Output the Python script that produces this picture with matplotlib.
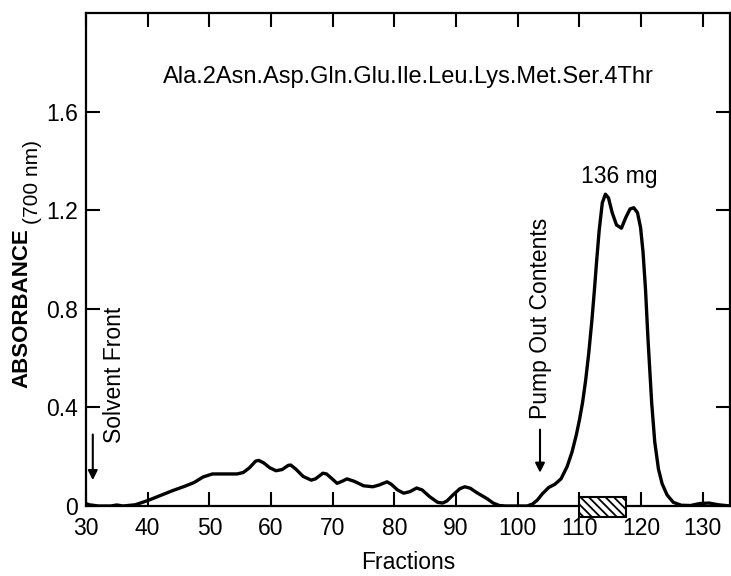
import matplotlib
matplotlib.use("agg")
import matplotlib.pyplot as plt
from matplotlib.patches import Rectangle

# chromatogram
fractions = [30.0, 30.5, 32.0, 34.0, 35.0, 36.0, 38.0, 40.0, 42.0, 44.0, 46.0, 47.5,
             49.0, 50.5, 52.0, 54.5, 55.5, 56.5, 57.5, 58.0, 58.8, 59.8, 60.8, 61.8,
             62.8, 63.2, 64.0, 65.2, 66.5, 67.2, 68.4, 69.0, 70.0, 70.7, 71.5, 72.3,
             73.5, 75.0, 76.5, 77.5, 78.8, 79.5, 80.5, 81.5, 82.5, 83.6, 84.5, 85.7,
             87.0, 87.8, 88.5, 89.5, 90.6, 91.4, 92.3, 93.3, 95.0, 96.0, 97.0, 98.0,
             101.5, 102.4, 103.2, 104.0, 105.0, 106.0, 107.0, 108.0, 108.8, 109.5,
             110.0, 110.5, 111.0, 111.5, 112.0, 112.4, 112.8, 113.2, 113.7, 114.2,
             114.7, 115.3, 116.0, 116.8, 117.5, 118.2, 118.8, 119.4, 119.9, 120.3,
             120.7, 121.1, 121.7, 122.2, 122.8, 123.4, 124.2, 125.2, 126.5, 128.0,
             129.5, 131.0, 132.5, 134.4]
absorbance = [0.01, 0.005, 0.0, 0.0, 0.004, 0.0, 0.005, 0.022, 0.042, 0.062, 0.08, 0.095,
              0.118, 0.13, 0.13, 0.13, 0.136, 0.155, 0.182, 0.185, 0.175, 0.155, 0.143, 0.148,
              0.165, 0.166, 0.15, 0.12, 0.105, 0.11, 0.133, 0.13, 0.108, 0.092, 0.10, 0.11,
              0.10, 0.082, 0.078, 0.085, 0.098, 0.088, 0.065, 0.052, 0.058, 0.073, 0.065, 0.038,
              0.015, 0.012, 0.02, 0.045, 0.07, 0.078, 0.072, 0.055, 0.03, 0.012, 0.002, 0.0,
              0.0, 0.008, 0.025, 0.05, 0.075, 0.088, 0.11, 0.16, 0.22, 0.29,
              0.35, 0.42, 0.51, 0.62, 0.75, 0.87, 1.0, 1.12, 1.23, 1.265,
              1.25, 1.19, 1.14, 1.127, 1.17, 1.205, 1.21, 1.19, 1.13, 1.03,
              0.88, 0.68, 0.42, 0.26, 0.15, 0.09, 0.045, 0.015, 0.003, 0.002,
              0.01, 0.012, 0.005, 0.0]

pool_range = [110.0, 117.5]
solvent_front = 31.1
pump_out = 103.6

x_ticks = [30, 40, 50, 60, 70, 80, 90, 100, 110, 120, 130]
y_ticks = [0, 0.4, 0.8, 1.2, 1.6]
y_ticklabels = ["0", "0.4", "0.8", "1.2", "1.6"]

plt.rcParams["font.family"] = ["Liberation Sans", "DejaVu Sans"]
plt.rcParams["hatch.linewidth"] = 1.3

fig = plt.figure(figsize=(7.31, 5.76), dpi=100)
ax = fig.add_axes([86 / 731, 1 - 506 / 576, 644 / 731, 493 / 576])

ax.plot(fractions, absorbance, color="black", lw=2.4, solid_joinstyle="round")

ax.add_patch(Rectangle((pool_range[0], -0.045), pool_range[1] - pool_range[0], 0.082,
                       facecolor="white", edgecolor="black", hatch="\\\\\\\\",
                       lw=1.5, clip_on=False, zorder=5))

ax.set_xlim(30, 134.4)
ax.set_ylim(0, 2.0)
ax.set_xticks(x_ticks)
ax.set_yticks(y_ticks)
ax.set_yticklabels(y_ticklabels)
ax.tick_params(direction="in", length=10, width=1.5, labelsize=16.5,
               top=True, right=True)
ax.tick_params(axis="x", pad=8)
ax.tick_params(axis="y", pad=6)
for sp in ax.spines.values():
    sp.set_linewidth(1.6)

ax.set_xlabel("Fractions", fontsize=16.5, labelpad=8)

fig.text(22 / 731, 1 - 308 / 576, "ABSORBANCE", rotation=90, fontsize=16,
         fontweight="bold", ha="center", va="center")
fig.text(33 / 731, 1 - 182 / 576, "(700 nm)", rotation=90, fontsize=15,
         ha="center", va="center")

ax.text(82.3, 1.74, "Ala.2Asn.Asp.Gln.Glu.Ile.Leu.Lys.Met.Ser.4Thr",
        fontsize=17, ha="center", va="center")
ax.text(116.5, 1.335, "136 mg", fontsize=16.5, ha="center", va="center")

ax.text(34.7, 0.53, "Solvent Front", rotation=90, fontsize=16.5,
        ha="center", va="center")
ax.annotate("", xy=(solvent_front, 0.105), xytext=(solvent_front, 0.29),
            arrowprops=dict(arrowstyle="-|>", color="black", lw=1.5,
                            mutation_scale=14, shrinkA=0, shrinkB=0))

ax.text(pump_out, 0.76, "Pump Out Contents", rotation=90, fontsize=16.5,
        ha="center", va="center")
ax.annotate("", xy=(pump_out, 0.135), xytext=(pump_out, 0.31),
            arrowprops=dict(arrowstyle="-|>", color="black", lw=1.5,
                            mutation_scale=14, shrinkA=0, shrinkB=0))

fig.savefig("out.png", dpi=100)
